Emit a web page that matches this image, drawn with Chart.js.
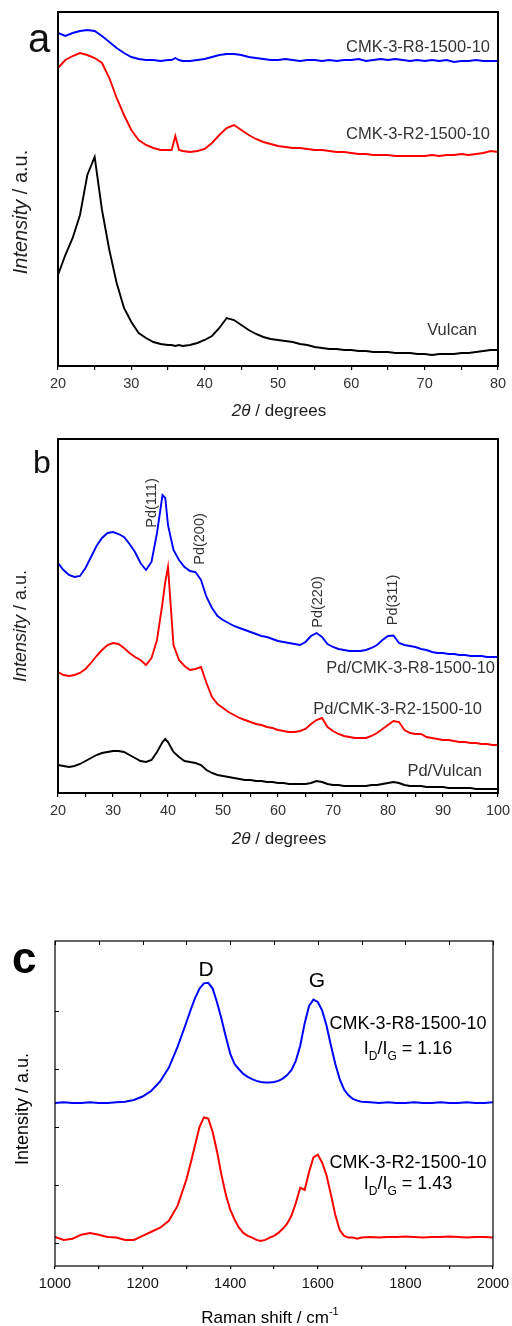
<!DOCTYPE html>
<html>
<head>
<meta charset="utf-8">
<script src="https://cdn.jsdelivr.net/npm/chart.js@4.4.1/dist/chart.umd.min.js"></script>
<style>
  html, body { margin: 0; padding: 0; background: #fff; }
  #wrap { position: relative; width: 512px; height: 1326px; overflow: hidden; }
  canvas { position: absolute; left: 0; }
</style>
</head>
<body>
<div id="wrap">
  <canvas id="chartA" width="512" height="430" style="top:0px"></canvas>
  <canvas id="chartB" width="512" height="440" style="top:430px"></canvas>
  <canvas id="chartC" width="512" height="456" style="top:870px"></canvas>
</div>
<script>
const FONT = '"Liberation Sans", Arial, sans-serif';

// panel a - XRD of the carbons (2theta in degrees, intensity a.u.)
const thetaA = [20, 21, 22, 23, 24, 25, 26, 27, 28, 29, 30, 31, 32, 33, 34, 35, 35.5, 36, 36.5,
  37, 38, 39, 40, 41, 42, 43, 44, 45, 46, 47, 48, 49, 50,
  51, 52, 53, 54, 55, 56, 57, 58, 59, 60, 61, 62, 63, 64, 65, 66, 67, 68, 69, 70,
  71, 72, 73, 74, 75, 76, 77, 78, 79, 80];
const aR8 = [3330, 3300, 3330, 3350, 3360, 3350, 3300, 3240, 3180, 3130, 3090, 3070, 3060, 3060, 3050, 3060, 3060, 3080, 3060,
  3050, 3050, 3060, 3070, 3090, 3110, 3120, 3120, 3110, 3090, 3080, 3070, 3060, 3060,
  3070, 3060, 3050, 3060, 3060, 3050, 3060, 3050, 3060, 3060, 3070, 3050, 3060, 3070, 3060, 3070, 3060, 3050, 3060, 3050,
  3060, 3050, 3060, 3040, 3050, 3050, 3060, 3050, 3050, 3050];
const aR2 = [2980, 3060, 3100, 3130, 3110, 3080, 3030, 2880, 2680, 2510, 2360, 2260, 2210, 2180, 2160, 2160, 2160, 2300, 2160,
  2150, 2140, 2150, 2170, 2230, 2310, 2380, 2410, 2360, 2310, 2270, 2240, 2220, 2200,
  2190, 2180, 2180, 2170, 2160, 2160, 2150, 2140, 2140, 2130, 2120, 2120, 2110, 2110, 2110, 2100, 2100, 2100, 2100, 2100,
  2110, 2100, 2110, 2110, 2120, 2110, 2120, 2130, 2150, 2140];
const aVulcan = [910, 1110, 1280, 1510, 1910, 2090, 1560, 1160, 830, 580, 440, 330, 280, 240, 220, 210, 210, 200, 210,
  200, 210, 230, 260, 300, 380, 480, 460, 410, 360, 320, 290, 270, 260,
  250, 240, 220, 210, 190, 180, 170, 170, 160, 160, 150, 150, 140, 140, 140, 130, 130, 130, 120, 120,
  110, 120, 120, 120, 130, 130, 140, 150, 160, 160];
const labelsA = [20, 30, 40, 50, 60, 70, 80];

// panel b - XRD of the Pd catalysts
const thetaB = [20, 21, 22, 23, 24, 25, 26, 27, 28, 29, 30, 31, 32, 33, 34, 35, 36, 37, 38, 39, 39.5,
  40, 41, 42, 43, 44, 45, 46, 47, 48, 49, 50, 51, 52, 53, 54, 55, 56, 57, 58, 59,
  60, 61, 62, 63, 64, 65, 66, 67, 68, 69, 70, 71, 72, 73, 74, 75, 76, 77, 78, 79,
  80, 81, 82, 83, 84, 85, 86, 87, 88, 89, 90, 91, 92, 93, 94, 95, 96, 97, 98, 99, 100];
const bR8 = [2300, 2230, 2180, 2160, 2170, 2250, 2360, 2470, 2550, 2600, 2610, 2590, 2560, 2490, 2410, 2300, 2230, 2310, 2600, 2980, 2950,
  2680, 2430, 2330, 2260, 2220, 2210, 2130, 1960, 1850, 1770, 1730, 1700, 1670, 1650, 1630, 1610, 1590, 1570, 1560, 1540,
  1520, 1510, 1500, 1490, 1480, 1510, 1570, 1600, 1560, 1490, 1460, 1440, 1430, 1420, 1420, 1420, 1430, 1450, 1480, 1530,
  1570, 1575, 1500, 1480, 1470, 1460, 1440, 1430, 1410, 1400, 1400, 1390, 1390, 1380, 1380, 1370, 1370, 1370, 1360, 1360, 1360];
const bR2 = [1210, 1180, 1170, 1180, 1200, 1240, 1300, 1370, 1430, 1480, 1500, 1490, 1450, 1400, 1360, 1330, 1280, 1350, 1530, 1900, 2110,
  2260, 1480, 1330, 1270, 1230, 1240, 1260, 1100, 960, 890, 850, 810, 780, 750, 730, 710, 690, 680, 660, 650,
  630, 620, 610, 610, 620, 640, 690, 730, 750, 660, 620, 590, 570, 560, 550, 550, 550, 570, 600, 640,
  680, 720, 710, 630, 600, 590, 590, 560, 550, 540, 530, 530, 520, 510, 510, 500, 500, 490, 490, 480, 480];
const bVulcan = [280, 270, 260, 270, 290, 320, 350, 380, 400, 410, 420, 420, 410, 380, 350, 320, 310, 330, 410, 510, 540,
  510, 410, 360, 320, 310, 300, 280, 230, 200, 180, 170, 160, 150, 140, 130, 130, 120, 120, 110, 110,
  100, 100, 90, 90, 90, 90, 100, 120, 110, 90, 80, 80, 70, 70, 70, 70, 70, 80, 80, 90,
  100, 110, 100, 80, 70, 70, 70, 60, 60, 60, 60, 50, 50, 50, 50, 50, 40, 40, 40, 40, 40];
const labelsB = [20, 30, 40, 50, 60, 70, 80, 90, 100];

// panel c - Raman spectra (cm-1, intensity a.u.)
const ramanShift = [1000, 1020, 1040, 1060, 1080, 1100, 1120, 1140, 1160, 1180, 1200, 1220, 1240, 1260, 1280, 1300,
  1310, 1320, 1330, 1340, 1350, 1360, 1370, 1380, 1390, 1400,
  1410, 1420, 1430, 1440, 1450, 1460, 1470, 1480, 1490, 1500,
  1510, 1520, 1530, 1540, 1550, 1560, 1570, 1580, 1590, 1600,
  1610, 1620, 1630, 1640, 1650, 1660, 1670, 1680, 1690, 1700,
  1720, 1740, 1760, 1780, 1800, 1820, 1840, 1860, 1880, 1900, 1920, 1940, 1960, 1980, 2000];
const cR8 = [2.41, 2.42, 2.41, 2.41, 2.42, 2.41, 2.41, 2.42, 2.43, 2.46, 2.52, 2.62, 2.78, 3.02, 3.38, 3.80,
  4.02, 4.22, 4.38, 4.47, 4.48, 4.38, 4.14, 3.86, 3.55, 3.26,
  3.08, 2.99, 2.91, 2.86, 2.82, 2.79, 2.77, 2.76, 2.76, 2.77,
  2.79, 2.83, 2.89, 2.98, 3.14, 3.40, 3.78, 4.08, 4.19, 4.15,
  4.00, 3.74, 3.40, 3.08, 2.82, 2.64, 2.54, 2.48, 2.45, 2.43,
  2.42, 2.41, 2.42, 2.41, 2.41, 2.42, 2.41, 2.41, 2.42, 2.41, 2.41, 2.42, 2.41, 2.41, 2.42];
const cR2 = [0.10, 0.05, 0.07, 0.14, 0.17, 0.14, 0.10, 0.09, 0.05, 0.05, 0.12, 0.19, 0.26, 0.38, 0.64, 1.09,
  1.38, 1.69, 2.00, 2.16, 2.14, 1.91, 1.57, 1.17, 0.83, 0.57,
  0.40, 0.26, 0.17, 0.12, 0.09, 0.05, 0.03, 0.05, 0.09, 0.12,
  0.17, 0.24, 0.33, 0.47, 0.69, 0.95, 0.91, 1.22, 1.47, 1.52,
  1.38, 1.16, 0.83, 0.48, 0.22, 0.12, 0.09, 0.09, 0.07, 0.09,
  0.10, 0.09, 0.10, 0.10, 0.11, 0.10, 0.09, 0.10, 0.10, 0.11, 0.10, 0.09, 0.10, 0.10, 0.09];
const labelsC = [1000, 1200, 1400, 1600, 1800, 2000];

/**
 * Draws a line of text made of several parts (italic, sub, sup)
 * y is the middle of the capitals
 */
function drawRich(ctx, item) {
  const size = item.size;
  const parts = item.parts.map(p => typeof p === 'string' ? {t: p} : p);
  const fontFor = p => {
    const sz = (p.sub || p.sup) ? Math.round(size * 0.65) : size;
    return (p.italic ? 'italic ' : '') + (p.bold ? 'bold ' : '') + sz + 'px ' + FONT;
  };
  let total = 0;
  parts.forEach(p => {
    ctx.font = fontFor(p);
    p.w = ctx.measureText(p.t).width;
    total += p.w;
  });
  ctx.save();
  ctx.translate(item.x, item.y);
  if (item.rotate) ctx.rotate(item.rotate * Math.PI / 180);
  ctx.fillStyle = item.color || '#000';
  ctx.textBaseline = 'alphabetic';
  let x = item.align === 'right' ? -total : (item.align === 'left' ? 0 : -total / 2);
  parts.forEach(p => {
    ctx.font = fontFor(p);
    let dy = size * 0.358;
    if (p.sub) dy += size * 0.3;
    if (p.sup) dy -= size * 0.45;
    ctx.fillText(p.t, x, dy);
    x += p.w;
  });
  ctx.restore();
}

// frame, inner ticks and all the texts of one panel
function decor(cfg) {
  return {
    id: 'decor',
    afterDraw(chart) {
      const {ctx, chartArea: a} = chart;
      ctx.save();
      ctx.strokeStyle = '#000';
      ctx.lineWidth = cfg.frameWidth;
      ctx.strokeRect(a.left, a.top, a.right - a.left, a.bottom - a.top);
      if (cfg.innerTicks) {
        ctx.lineWidth = 1;
        ctx.beginPath();
        chart.scales.x.ticks.forEach(t => {
          const px = Math.round(chart.scales.x.getPixelForValue(t.value)) + 0.5;
          ctx.moveTo(px, a.top);
          ctx.lineTo(px, a.top + 4);
        });
        chart.scales.y.ticks.filter(t => Number.isInteger(t.value)).forEach(t => {
          const py = Math.round(chart.scales.y.getPixelForValue(t.value)) + 0.5;
          ctx.moveTo(a.left, py);
          ctx.lineTo(a.left + 4, py);
        });
        ctx.stroke();
      }
      ctx.restore();
      cfg.texts.forEach(item => drawRich(ctx, item));
    }
  };
}

function makeChart(id, cfg) {
  const datasets = cfg.series.map(s => ({
    data: cfg.x.map((v, i) => ({x: v, y: s.values[i]})),
    borderColor: s.color,
    borderWidth: cfg.lineWidth,
    pointRadius: 0,
    tension: 0,
    fill: false
  }));
  return new Chart(document.getElementById(id), {
    type: 'line',
    data: {datasets},
    options: {
      responsive: false,
      animation: false,
      events: [],
      layout: {padding: {top: cfg.top, right: cfg.right, left: 0, bottom: 0}},
      plugins: {legend: {display: false}, tooltip: {enabled: false}},
      scales: {
        x: {
          type: 'linear',
          min: cfg.xMin,
          max: cfg.xMax,
          afterFit: s => {
            s.height = cfg.bottomSpace;
            // keep the plot box where it is, labels may overhang
            s.paddingLeft = 0;
            s.paddingRight = 0;
          },
          ticks: {
            stepSize: cfg.xStep,
            autoSkip: false,
            maxRotation: 0,
            padding: cfg.tickPad,
            color: cfg.tickColor,
            font: {family: FONT, size: cfg.tickSize},
            callback: v => cfg.xLabels.includes(v) ? String(v) : ''
          },
          grid: {display: true, drawOnChartArea: false, drawTicks: true, tickLength: cfg.tickLen, color: '#000', lineWidth: 1.2},
          border: {display: false}
        },
        y: {
          type: 'linear',
          min: cfg.yMin,
          max: cfg.yMax,
          afterFit: s => { s.width = cfg.left; },
          ticks: {display: false, stepSize: cfg.yStep},
          grid: {display: false},
          border: {display: false}
        }
      }
    },
    plugins: [decor(cfg)]
  });
}

makeChart('chartA', {
  x: thetaA,
  series: [
    {values: aR8, color: '#0000ff'},
    {values: aR2, color: '#ff0000'},
    {values: aVulcan, color: '#000000'}
  ],
  lineWidth: 1.9,
  xMin: 20, xMax: 80, xStep: 5, xLabels: labelsA,
  yMin: 0, yMax: 3540, yStep: 1000,
  top: 12, right: 14, left: 58, bottomSpace: 64,
  tickPad: 5, tickLen: 4, tickColor: '#333', tickSize: 14.5,
  frameWidth: 2,
  texts: [
    {parts: ['a'], x: 28, y: 38, align: 'left', size: 40, color: '#111'},
    {parts: ['CMK-3-R8-1500-10'], x: 490, y: 46, align: 'right', size: 16.5, color: '#333'},
    {parts: ['CMK-3-R2-1500-10'], x: 490, y: 133, align: 'right', size: 16.5, color: '#333'},
    {parts: ['Vulcan'], x: 477, y: 329, align: 'right', size: 16.5, color: '#333'},
    {parts: [{t: 'Intensity', italic: true}, ' / a.u.'], x: 20, y: 212, rotate: -90, size: 20, color: '#222'},
    {parts: [{t: '2', italic: true}, {t: 'θ', italic: true}, ' / degrees'], x: 279, y: 410, size: 17, color: '#222'}
  ]
});

makeChart('chartB', {
  x: thetaB,
  series: [
    {values: bR8, color: '#0000ff'},
    {values: bR2, color: '#ff0000'},
    {values: bVulcan, color: '#000000'}
  ],
  lineWidth: 1.9,
  xMin: 20, xMax: 100, xStep: 5, xLabels: labelsB,
  yMin: 0, yMax: 3540, yStep: 1000,
  top: 9, right: 14, left: 58, bottomSpace: 77,
  tickPad: 5, tickLen: 4, tickColor: '#333', tickSize: 14.5,
  frameWidth: 2,
  texts: [
    {parts: ['b'], x: 33, y: 31.5, align: 'left', size: 32, color: '#111'},
    {parts: ['Pd(111)'], x: 151, y: 73, rotate: -90, size: 14.5, color: '#333'},
    {parts: ['Pd(200)'], x: 199, y: 109, rotate: -90, size: 14.5, color: '#333'},
    {parts: ['Pd(220)'], x: 317, y: 172, rotate: -90, size: 14.5, color: '#333'},
    {parts: ['Pd(311)'], x: 392, y: 170, rotate: -90, size: 14.5, color: '#333'},
    {parts: ['Pd/CMK-3-R8-1500-10'], x: 495, y: 237, align: 'right', size: 16.5, color: '#333'},
    {parts: ['Pd/CMK-3-R2-1500-10'], x: 482, y: 278, align: 'right', size: 16.5, color: '#333'},
    {parts: ['Pd/Vulcan'], x: 482, y: 340, align: 'right', size: 16.5, color: '#333'},
    {parts: [{t: 'Intensity', italic: true}, ' / a.u.'], x: 20, y: 196, rotate: -90, size: 18, color: '#222'},
    {parts: [{t: '2', italic: true}, {t: 'θ', italic: true}, ' / degrees'], x: 279, y: 408, size: 17, color: '#222'}
  ]
});

makeChart('chartC', {
  x: ramanShift,
  series: [
    {values: cR8, color: '#0000ff'},
    {values: cR2, color: '#ff0000'}
  ],
  lineWidth: 2,
  xMin: 1000, xMax: 2000, xStep: 100, xLabels: labelsC,
  yMin: -0.4, yMax: 5.2, yStep: 1,
  top: 71, right: 19, left: 55, bottomSpace: 60,
  tickPad: 6, tickLen: 3, tickColor: '#111', tickSize: 14.5,
  frameWidth: 1.2,
  innerTicks: true,
  texts: [
    {parts: [{t: 'c', bold: true}], x: 12, y: 87, align: 'left', size: 44},
    {parts: ['D'], x: 206, y: 98, size: 21},
    {parts: ['G'], x: 317, y: 109, size: 21},
    {parts: ['CMK-3-R8-1500-10'], x: 408, y: 153, size: 18},
    {parts: ['I', {t: 'D', sub: true}, '/I', {t: 'G', sub: true}, ' = 1.16'], x: 408, y: 178, size: 18},
    {parts: ['CMK-3-R2-1500-10'], x: 408, y: 292, size: 18},
    {parts: ['I', {t: 'D', sub: true}, '/I', {t: 'G', sub: true}, ' = 1.43'], x: 408, y: 313, size: 18},
    {parts: ['Intensity / a.u.'], x: 22, y: 239, rotate: -90, size: 18},
    {parts: ['Raman shift / cm', {t: '-1', sup: true}], x: 270, y: 447, size: 17}
  ]
});
</script>
</body>
</html>
